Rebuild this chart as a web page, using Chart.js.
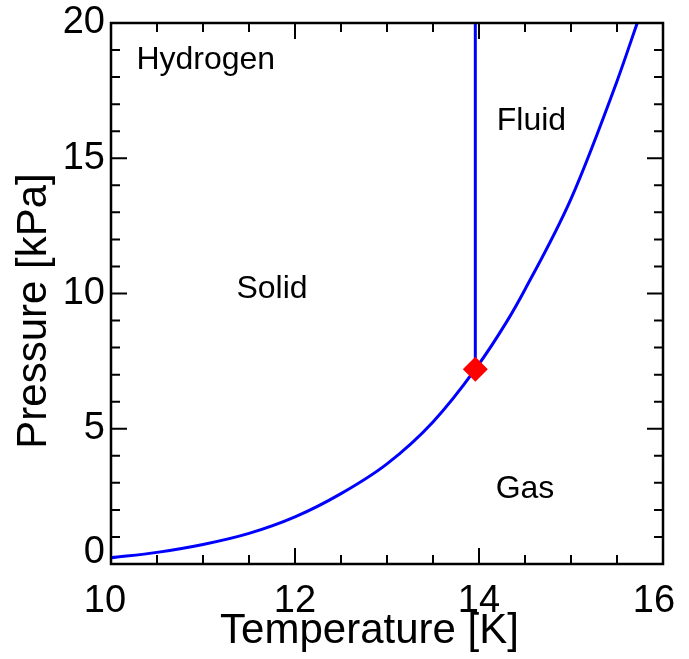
<!DOCTYPE html>
<html>
<head>
<meta charset="utf-8">
<script src="https://cdn.jsdelivr.net/npm/chart.js@4.4.1/dist/chart.umd.min.js"></script>
<style>
  html, body { margin: 0; padding: 0; background: #fff; }
</style>
</head>
<body>
<canvas id="phase" width="689" height="659"></canvas>
<script>
// sublimation curve up to the triple point, then vapour pressure of the liquid
const curveT = [10, 10.5, 11, 11.5, 12, 12.5, 13, 13.5, 13.96, 14.3, 14.5, 15, 15.5, 15.72];
const curveP = [0.23, 0.43, 0.72, 1.13, 1.74, 2.6, 3.7, 5.25, 7.2, 8.95, 10.15, 13.5, 17.85, 20];

// melting line goes straight up from the triple point
const meltT = [13.96, 13.96];
const meltP = [7.2, 20];

const tripleT = [13.96];
const tripleP = [7.2];

// region names, placed in temperature / pressure units
const regionNames = ["Hydrogen", "Fluid", "Solid", "Gas"];
const regionT = [11.03, 14.57, 11.75, 14.5];
const regionP = [18.63, 16.38, 10.17, 2.77];

const xMajor = [10, 12, 14, 16];
const yMajor = [0, 5, 10, 15, 20];

const FONT = "'Liberation Sans', Arial, Helvetica, sans-serif";

const toPoints = (xs, ys) => xs.map((v, i) => ({ x: v, y: ys[i] }));
const isMajor = (list, v) => list.some(m => Math.abs(m - v) < 1e-6);

// box around the plot with inward ticks on every side
const frameTicks = {
  id: "frameTicks",
  afterDraw(chart) {
    const { ctx, chartArea: a, scales: { x, y } } = chart;
    ctx.save();
    ctx.strokeStyle = "#000";
    ctx.lineWidth = 2;
    ctx.beginPath();
    x.ticks.forEach(t => {
      const px = x.getPixelForValue(t.value);
      const len = isMajor(xMajor, t.value) ? 16 : 9;
      ctx.moveTo(px, a.bottom); ctx.lineTo(px, a.bottom - len);
      ctx.moveTo(px, a.top); ctx.lineTo(px, a.top + len);
    });
    y.ticks.forEach(t => {
      const py = y.getPixelForValue(t.value);
      const len = isMajor(yMajor, t.value) ? 16 : 9;
      ctx.moveTo(a.left, py); ctx.lineTo(a.left + len, py);
      ctx.moveTo(a.right, py); ctx.lineTo(a.right - len, py);
    });
    ctx.stroke();
    ctx.lineWidth = 2.5;
    ctx.strokeRect(a.left, a.top, a.right - a.left, a.bottom - a.top);
    ctx.restore();
  }
};

// corner labels are pulled in a little so they don't crowd each other
const cornerShift = { x: { "10": -6, "16": -9 }, y: { "0": -11 } };
const nudgeCorners = {
  id: "nudgeCorners",
  beforeDraw(chart) {
    ["x", "y"].forEach(id => {
      const scale = chart.scales[id];
      scale.getLabelItems().forEach(item => {
        const d = cornerShift[id][String(item.label)];
        if (!d || item._nudged) return;
        item.options.translation[id === "x" ? 0 : 1] += d;
        item._nudged = true;
      });
    });
  }
};

const regionText = {
  id: "regionText",
  afterDatasetsDraw(chart) {
    const { ctx, scales: { x, y } } = chart;
    ctx.save();
    ctx.fillStyle = "#000";
    ctx.font = "32px " + FONT;
    ctx.textAlign = "center";
    ctx.textBaseline = "middle";
    regionNames.forEach((name, i) => {
      ctx.fillText(name, x.getPixelForValue(regionT[i]), y.getPixelForValue(regionP[i]));
    });
    ctx.restore();
  }
};

new Chart(document.getElementById("phase"), {
  type: "scatter",
  data: {
    datasets: [
      {
        label: "triple point",
        data: toPoints(tripleT, tripleP),
        pointStyle: "rectRot",
        pointRadius: 12.5,
        backgroundColor: "#ff0000",
        borderColor: "#ff0000",
        borderWidth: 0,
        order: 0
      },
      {
        label: "coexistence",
        data: toPoints(curveT, curveP),
        showLine: true,
        cubicInterpolationMode: "monotone",
        borderColor: "#0000ff",
        borderWidth: 3,
        pointRadius: 0,
        order: 1
      },
      {
        label: "melting",
        data: toPoints(meltT, meltP),
        showLine: true,
        borderColor: "#0000ff",
        borderWidth: 3,
        pointRadius: 0,
        order: 1
      }
    ]
  },
  options: {
    responsive: false,
    animation: false,
    events: [],
    layout: { padding: { top: 23, right: 26, left: 0, bottom: 0 } },
    plugins: {
      legend: { display: false },
      tooltip: { enabled: false }
    },
    scales: {
      x: {
        type: "linear",
        min: 10,
        max: 16,
        grid: { display: false, drawTicks: false },
        border: { display: false },
        ticks: {
          stepSize: 0.5,
          autoSkip: false,
          maxRotation: 0,
          padding: 15,
          color: "#000",
          font: { family: FONT, size: 38 },
          callback: v => (isMajor(xMajor, v) ? v : "")
        },
        title: {
          display: true,
          text: "Temperature [K]\u00a0\u00a0\u00a0",
          color: "#000",
          font: { family: FONT, size: 42 },
          padding: { top: 0, bottom: 2 }
        },
        afterFit: s => { s.height = 95; s.paddingLeft = 0; s.paddingRight = 0; }
      },
      y: {
        type: "linear",
        min: 0,
        max: 20,
        grid: { display: false, drawTicks: false },
        border: { display: false },
        ticks: {
          stepSize: 1,
          autoSkip: false,
          padding: 6,
          color: "#000",
          font: { family: FONT, size: 38 },
          callback: v => (isMajor(yMajor, v) ? v : "")
        },
        title: {
          display: true,
          text: "Pressure [kPa]\u00a0\u00a0\u00a0",
          color: "#000",
          font: { family: FONT, size: 42 },
          padding: { top: 9, bottom: 0 }
        },
        afterFit: s => { s.width = 111; s.paddingTop = 0; s.paddingBottom = 0; }
      }
    }
  },
  plugins: [frameTicks, nudgeCorners, regionText]
});
</script>
</body>
</html>
